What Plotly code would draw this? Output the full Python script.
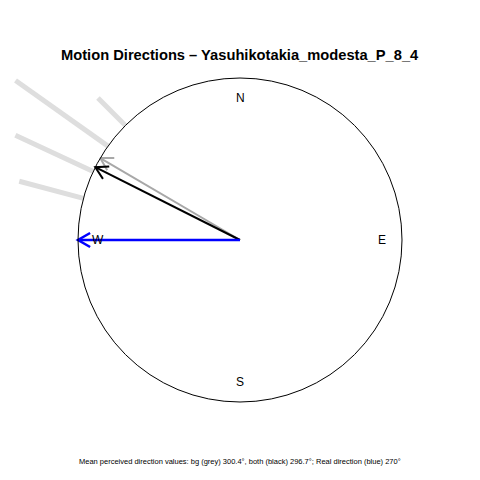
import numpy as np
import plotly.graph_objects as go

# ---- data ----
title_text = "Motion Directions – Yasuhikotakia_modesta_P_8_4"
caption_text = "Mean perceived direction values: bg (grey) 300.4°, both (black) 296.7°; Real direction (blue) 270°"
compass_labels = ["N", "E", "S", "W"]
compass_angles = [0, 90, 180, 270]
arrow_names = ["bg (grey)", "both (black)", "real (blue)"]
arrow_angles = [300.4, 296.7, 270.0]
arrow_colors = ["#a8a8a8", "#000000", "#0000ff"]
arrow_widths = [2, 2, 2.5]
trial_angles = [315.0, 305.4, 295.0, 284.9]
trial_lengths = [1.24, 1.70, 1.53, 1.41]

R_PX = 162.0
OFF = 8.0  # page body margin offset
CX = 240.0 - OFF  # centre within figure pixels


def pol(angle_deg, r):
    a = np.deg2rad(angle_deg)
    return r * np.sin(a), r * np.cos(a)


fig = go.Figure()

# background trial lines (light grey, thick)
for ang, ln in zip(trial_angles, trial_lengths):
    x0, y0 = pol(ang, 1.0)
    x1, y1 = pol(ang, ln)
    fig.add_trace(go.Scatter(x=[x0, x1], y=[y0, y1], mode="lines",
                             line=dict(color="rgba(222,222,222,1)", width=5),
                             hoverinfo="skip", showlegend=False))

# unit circle
fig.add_shape(type="circle", x0=-1, y0=-1, x1=1, y1=1, xref="x", yref="y",
              line=dict(color="black", width=1))

# arrows
head_len = 14 / R_PX
for name, ang, col, w in zip(arrow_names, arrow_angles, arrow_colors, arrow_widths):
    tx, ty = pol(ang, 1.0)
    fig.add_trace(go.Scatter(x=[0, tx], y=[0, ty], mode="lines",
                             line=dict(color=col, width=w), name=name,
                             hoverinfo="skip", showlegend=False))
    back = ang + 180
    bx1, by1 = pol(back + 30, head_len)
    bx2, by2 = pol(back - 30, head_len)
    fig.add_trace(go.Scatter(x=[tx + bx1, tx, tx + bx2], y=[ty + by1, ty, ty + by2],
                             mode="lines", line=dict(color=col, width=w),
                             hoverinfo="skip", showlegend=False))

# compass labels
for lab, ang in zip(compass_labels, compass_angles):
    lx, ly = pol(ang, 0.875)
    fig.add_annotation(x=lx, y=ly, text=lab, showarrow=False, xref="x", yref="y",
                       xanchor="center", yanchor="middle",
                       font=dict(family="Liberation Sans, Arial", size=12, color="black"))

fig.add_annotation(x=CX / 480, y=1 - (55 - OFF) / 480, xref="paper", yref="paper",
                   text="<b>" + title_text + "</b>", showarrow=False,
                   xanchor="center", yanchor="middle",
                   font=dict(family="Liberation Sans, Arial", size=14.7, color="black"))
fig.add_annotation(x=CX / 480, y=1 - (461 - OFF) / 480, xref="paper", yref="paper",
                   text=caption_text, showarrow=False,
                   xanchor="center", yanchor="middle",
                   font=dict(family="Liberation Sans, Arial", size=7.5, color="black"))

fig.update_layout(width=480, height=480, margin=dict(l=0, r=0, t=0, b=0),
                  paper_bgcolor="white", plot_bgcolor="white",
                  xaxis=dict(range=[-CX / R_PX, (480 - CX) / R_PX], visible=False, fixedrange=True),
                  yaxis=dict(range=[-(480 - CX) / R_PX, CX / R_PX], visible=False, fixedrange=True),
                  showlegend=False)

fig.write_html("out.html")
